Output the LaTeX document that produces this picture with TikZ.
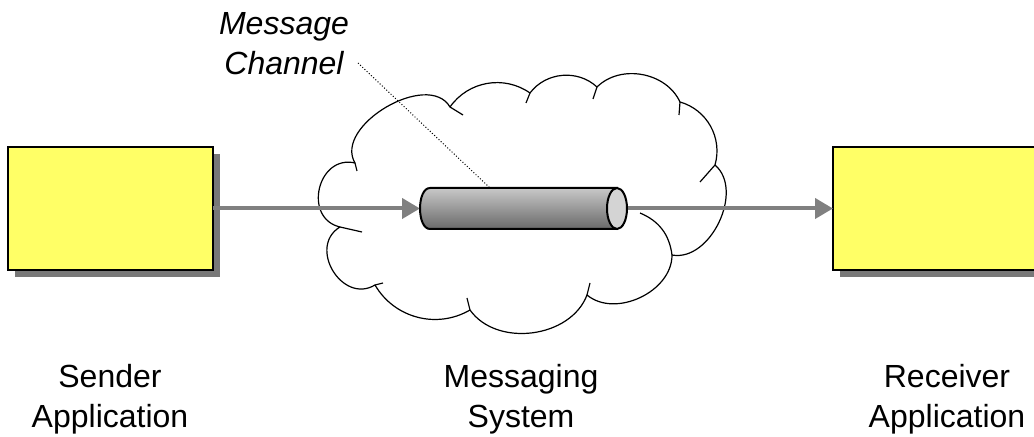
\documentclass[tikz,border=0pt]{standalone}
\usepackage{fontspec}
\setmainfont{Liberation Sans}
\usetikzlibrary{arrows.meta,shadows}

\definecolor{appyellow}{RGB}{255,255,102}
\definecolor{flowgray}{RGB}{128,128,128}
\definecolor{shadowgray}{RGB}{120,120,120}
\definecolor{cyltop}{RGB}{200,200,200}
\definecolor{cylbottom}{RGB}{105,105,105}
\definecolor{cylend}{RGB}{212,212,212}

\tikzset{
	appbox/.style={draw, line width=1pt, fill=appyellow, inner sep=0pt, outer sep=0pt,
		drop shadow={shadow xshift=3.5pt, shadow yshift=-3.5pt, fill=shadowgray, opacity=1}},
	flow/.style={draw=flowgray, line width=2pt, -{Triangle[length=9pt,width=10pt]}},
	caption/.style={align=center, inner sep=0pt, font=\fontsize{16}{20}\selectfont},
	cloudline/.style={line width=0.6pt, line join=round},
}

\begin{document}
\begin{tikzpicture}[x=0.5pt, y=-0.5pt]
				\clip (0, 0) rectangle (1034, 437);

				% cloud
				\draw[cloudline, fill=white] (340, 227) to[bend left=90, looseness=1.5] (355, 163)
					to[bend left=90] (450, 107) to[bend left=45] (530, 93)
					to[bend left=48] (597, 87) to[bend left=55] (680, 102)
					to[bend left=45] (715, 165) to[bend left=75] (672, 255)
					to[bend left=65] (587, 295) to[bend left=62] (470, 310)
					to[bend left=45] (375, 285) to[bend left=90, looseness=1.45] (340, 227);
				\draw[cloudline] (355, 163) -- (357, 171) (450, 107) -- (463, 115)
					(530, 93) -- (526, 103) (597, 87) -- (593, 99) (680, 102) -- (679, 115)
					(715, 165) -- (700, 182) (587, 295) -- (590, 283) (470, 310) -- (467, 298)
					(375, 285) -- (383, 283) (340, 227) -- (362, 232);
				\draw[cloudline] (640, 213) to[bend left=30] (672, 255);

				% applications
				\node[appbox, minimum width=102.5pt, minimum height=61.5pt] (sender) at (110.5, 208.5) {};
				\node[appbox, minimum width=106pt, minimum height=61.5pt] (receiver) at (939, 208.5) {};
				\node[inner sep=0pt, outer sep=0pt, minimum width=103.5pt, minimum height=20.5pt] (channel) at (523.5, 208.5) {};

				\draw[flow] (sender.east) -- (channel.west);
				\draw[flow] (channel.east) -- (receiver.west);

				% channel pipe
				\shade[top color=cyltop, bottom color=cylbottom, draw, line width=1pt]
					(617, 188) -- (430, 188) .. controls (416.7, 188) and (416.7, 229) .. (430, 229) -- (617, 229) -- cycle;
				\draw[fill=cylend, line width=1pt] (617, 208.5) ellipse [x radius=10, y radius=20.5];

				\node[caption, font=\fontsize{16}{20}\selectfont\itshape, anchor=base] (channellabel) at (284, 75) {Message\\Channel};
				\coordinate (pointer) at (358, 63);
				\coordinate (channeltop) at (490, 188);
				\draw[line width=0.5pt, dash pattern=on 0.5pt off 1pt] (pointer) -- (channeltop);

				\node[caption, anchor=base] (senderlabel) at (110, 428) {Sender\\Application};
				\node[caption, anchor=base] (systemlabel) at (521, 428) {Messaging\\System};
				\node[caption, anchor=base] (receiverlabel) at (947, 428) {Receiver\\Application};
\end{tikzpicture}
\end{document}
